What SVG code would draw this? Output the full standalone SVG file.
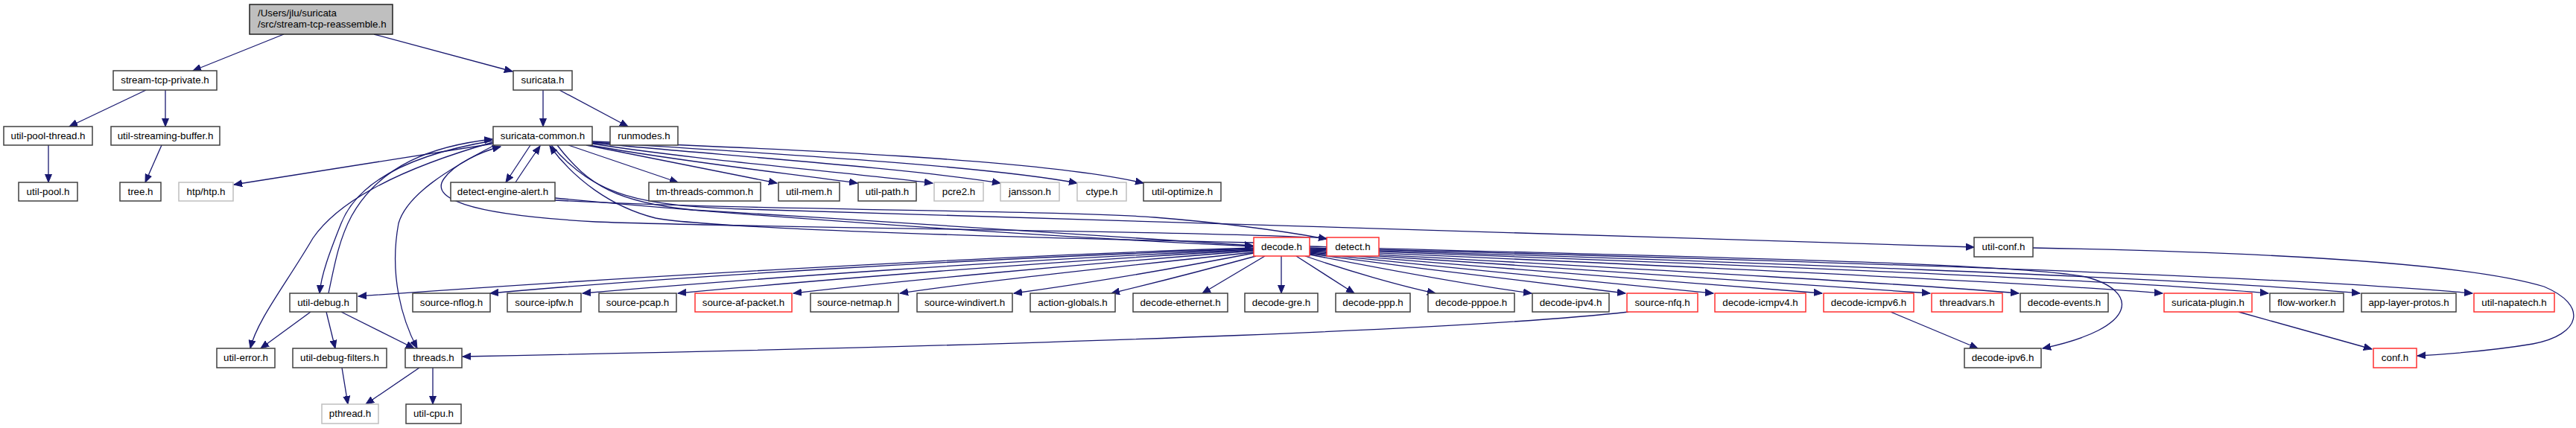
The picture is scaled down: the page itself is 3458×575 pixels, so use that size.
<svg xmlns="http://www.w3.org/2000/svg" width="3458" height="575" viewBox="0 0 3458 575">
<style>
rect{fill:#fff;stroke:#404040;stroke-width:1.5}
.r rect{stroke:#ff3030}
.g rect{stroke:#bfbfbf}
.root rect{fill:#bfbfbf;stroke:#202020}
text{font-family:"Liberation Sans",Arial,sans-serif;font-size:13.33px;fill:#000;text-anchor:middle}
#edges path{fill:none;stroke:#191970;stroke-width:1.3;marker-end:url(#ah)}
</style>
<defs>
<marker id="ah" markerWidth="12" markerHeight="10" refX="11" refY="5" orient="auto" markerUnits="userSpaceOnUse">
<path d="M0,0.5 L11,5 L0,9.5 z" fill="#191970" stroke="#191970" stroke-width="1"/>
</marker>
</defs>
<rect x="0" y="0" width="3458" height="575" style="fill:#fff;stroke:none"/>
<g id="edges">
<path d="M381,46 L259,95"/>
<path d="M502,46 L688,96"/>
<path d="M196,121 L93,170"/>
<path d="M222,121 L222,170"/>
<path d="M65,195 L65,245"/>
<path d="M217,195 L195,245"/>
<path d="M729,121 L729,170"/>
<path d="M751,121 L843,170"/>
<path d="M662,193 L314,248"/>
<path d="M712,195 L679,245"/>
<path d="M692,245 C701,231 714,212 725,196"/>
<path d="M763,195 L910,245"/>
<path d="M787,195 L1043,246"/>
<path d="M792,195 C900,215 1050,232 1151,246"/>
<path d="M795,193 C920,213 1120,230 1252,246"/>
<path d="M795,192 C960,208 1220,226 1343,246"/>
<path d="M795,191 C1000,204 1320,222 1446,246"/>
<path d="M795,190 C1050,200 1400,214 1535,246"/>
<path d="M748,195 C790,250 830,272 930,282 C1200,298 1500,318 1682,330"/>
<path d="M745,266 C1000,290 1400,318 1682,331"/>
<path d="M745,269 C1000,283 1420,282 1550,292 C1650,300 1720,310 1781,321"/>
<path d="M740,195 C800,265 860,276 1000,281 C1500,296 2200,318 2650,332"/>
<path d="M1683,326 C1300,318 950,306 880,293 C820,278 770,240 738,196"/>
<path d="M1782,320 C1600,310 1000,306 800,298 C620,288 578,265 596,240 C610,220 645,204 672,197"/>
<path d="M662,191 C560,220 460,262 420,320 C385,380 345,430 336,468"/>
<path d="M662,189 C560,206 482,240 458,300 C442,340 431,370 429,394"/>
<path d="M441,394 C450,350 456,320 472,290 C510,222 580,196 661,187"/>
<path d="M664,195 C600,228 546,262 535,300 C522,370 540,430 560,468"/>
<path d="M1683,333 C1300,345 800,375 481,398"/>
<path d="M1683,334 C1300,348 900,372 658,394"/>
<path d="M1683,335 C1350,350 1000,375 782,394"/>
<path d="M1683,336 C1400,352 1100,376 910,394"/>
<path d="M1683,337 C1450,355 1200,378 1065,394"/>
<path d="M1683,339 C1500,358 1300,380 1208,394"/>
<path d="M1683,340 C1580,360 1450,382 1361,394"/>
<path d="M1686,344 C1620,362 1550,380 1492,394"/>
<path d="M1698,344 L1614,394"/>
<path d="M1720,344 L1720,394"/>
<path d="M1740,344 L1818,394"/>
<path d="M1752,344 C1810,364 1880,384 1927,394"/>
<path d="M1758,342 C1850,360 1980,384 2056,394"/>
<path d="M1758,341 C1900,360 2100,385 2182,394"/>
<path d="M1758,340 C1950,360 2200,385 2300,394"/>
<path d="M1758,339 C2000,360 2350,385 2446,394"/>
<path d="M1758,338 C2050,358 2450,382 2591,394"/>
<path d="M1758,337 C2100,356 2550,380 2710,394"/>
<path d="M1758,336 C2200,355 2700,378 2903,394"/>
<path d="M1758,335 C2250,352 2850,376 3045,394"/>
<path d="M1758,334 C2300,350 2950,374 3168,394"/>
<path d="M1758,333 C2350,348 3050,370 3319,394"/>
<path d="M1758,331 C2200,344 2700,352 2800,372 C2870,390 2875,440 2742,468"/>
<path d="M2186,419 C2000,440 1500,462 621,479"/>
<path d="M2538,419 L2655,468"/>
<path d="M3005,419 L3184,469"/>
<path d="M2729,333 C3000,338 3300,350 3415,385 C3475,410 3465,450 3400,462 C3340,472 3280,476 3245,478"/>
<path d="M417,419 L350,468"/>
<path d="M438,419 L450,468"/>
<path d="M458,419 L556,468"/>
<path d="M459,494 L467,543"/>
<path d="M563,494 L491,543"/>
<path d="M581,494 L581,543"/>
</g>
<g id="n-root" class="root"><rect x="335" y="6" width="192" height="40"/><text x="346" y="22" style="text-anchor:start">/Users/jlu/suricata</text><text x="346" y="37" style="text-anchor:start">/src/stream-tcp-reassemble.h</text></g>
<g id="n-stream-tcp-private"><rect x="152" y="95" width="139" height="26"/><text x="221.5" y="112">stream-tcp-private.h</text></g>
<g id="n-suricata"><rect x="689" y="95" width="79" height="26"/><text x="728.5" y="112">suricata.h</text></g>
<g id="n-util-pool-thread"><rect x="5" y="170" width="119" height="25"/><text x="64.5" y="187">util-pool-thread.h</text></g>
<g id="n-util-streaming-buffer"><rect x="149" y="170" width="146" height="25"/><text x="222" y="187">util-streaming-buffer.h</text></g>
<g id="n-suricata-common"><rect x="662" y="170" width="133" height="25"/><text x="728.5" y="187">suricata-common.h</text></g>
<g id="n-runmodes"><rect x="819" y="170" width="91" height="25"/><text x="864.5" y="187">runmodes.h</text></g>
<g id="n-util-pool"><rect x="25" y="245" width="79" height="25"/><text x="64.5" y="262">util-pool.h</text></g>
<g id="n-tree"><rect x="161" y="245" width="55" height="25"/><text x="188.5" y="262">tree.h</text></g>
<g id="n-htp" class="g"><rect x="240" y="245" width="73" height="25"/><text x="276.5" y="262">htp/htp.h</text></g>
<g id="n-detect-engine-alert"><rect x="605" y="245" width="140" height="25"/><text x="675" y="262">detect-engine-alert.h</text></g>
<g id="n-tm-threads-common"><rect x="871" y="245" width="150" height="25"/><text x="946" y="262">tm-threads-common.h</text></g>
<g id="n-util-mem"><rect x="1045" y="245" width="82" height="25"/><text x="1086" y="262">util-mem.h</text></g>
<g id="n-util-path"><rect x="1152" y="245" width="78" height="25"/><text x="1191" y="262">util-path.h</text></g>
<g id="n-pcre2" class="g"><rect x="1254" y="245" width="66" height="25"/><text x="1287" y="262">pcre2.h</text></g>
<g id="n-jansson" class="g"><rect x="1343" y="245" width="79" height="25"/><text x="1382.5" y="262">jansson.h</text></g>
<g id="n-ctype" class="g"><rect x="1446" y="245" width="66" height="25"/><text x="1479" y="262">ctype.h</text></g>
<g id="n-util-optimize"><rect x="1535" y="245" width="104" height="25"/><text x="1587" y="262">util-optimize.h</text></g>
<g id="n-decode" class="r"><rect x="1683" y="319" width="75" height="25"/><text x="1720.5" y="336">decode.h</text></g>
<g id="n-detect" class="r"><rect x="1781" y="319" width="70" height="25"/><text x="1816" y="336">detect.h</text></g>
<g id="n-util-conf"><rect x="2650" y="319" width="79" height="26"/><text x="2689.5" y="336">util-conf.h</text></g>
<g id="n-util-debug"><rect x="389" y="394" width="90" height="25"/><text x="434" y="411">util-debug.h</text></g>
<g id="n-source-nflog"><rect x="554" y="394" width="104" height="25"/><text x="606" y="411">source-nflog.h</text></g>
<g id="n-source-ipfw"><rect x="681" y="394" width="99" height="25"/><text x="730.5" y="411">source-ipfw.h</text></g>
<g id="n-source-pcap"><rect x="804" y="394" width="104" height="25"/><text x="856" y="411">source-pcap.h</text></g>
<g id="n-source-af-packet" class="r"><rect x="933" y="394" width="130" height="25"/><text x="998" y="411">source-af-packet.h</text></g>
<g id="n-source-netmap"><rect x="1088" y="394" width="118" height="25"/><text x="1147" y="411">source-netmap.h</text></g>
<g id="n-source-windivert"><rect x="1231" y="394" width="128" height="25"/><text x="1295" y="411">source-windivert.h</text></g>
<g id="n-action-globals"><rect x="1383" y="394" width="114" height="25"/><text x="1440" y="411">action-globals.h</text></g>
<g id="n-decode-ethernet"><rect x="1521" y="394" width="127" height="25"/><text x="1584.5" y="411">decode-ethernet.h</text></g>
<g id="n-decode-gre"><rect x="1671" y="394" width="98" height="25"/><text x="1720" y="411">decode-gre.h</text></g>
<g id="n-decode-ppp"><rect x="1793" y="394" width="100" height="25"/><text x="1843" y="411">decode-ppp.h</text></g>
<g id="n-decode-pppoe"><rect x="1917" y="394" width="116" height="25"/><text x="1975" y="411">decode-pppoe.h</text></g>
<g id="n-decode-ipv4"><rect x="2057" y="394" width="103" height="25"/><text x="2108.5" y="411">decode-ipv4.h</text></g>
<g id="n-source-nfq" class="r"><rect x="2184" y="394" width="95" height="25"/><text x="2231.5" y="411">source-nfq.h</text></g>
<g id="n-decode-icmpv4" class="r"><rect x="2302" y="394" width="122" height="25"/><text x="2363" y="411">decode-icmpv4.h</text></g>
<g id="n-decode-icmpv6" class="r"><rect x="2448" y="394" width="121" height="25"/><text x="2508.5" y="411">decode-icmpv6.h</text></g>
<g id="n-threadvars" class="r"><rect x="2593" y="394" width="95" height="25"/><text x="2640.5" y="411">threadvars.h</text></g>
<g id="n-decode-events"><rect x="2712" y="394" width="118" height="25"/><text x="2771" y="411">decode-events.h</text></g>
<g id="n-suricata-plugin" class="r"><rect x="2905" y="394" width="118" height="25"/><text x="2964" y="411">suricata-plugin.h</text></g>
<g id="n-flow-worker"><rect x="3047" y="394" width="99" height="25"/><text x="3096.5" y="411">flow-worker.h</text></g>
<g id="n-app-layer-protos"><rect x="3170" y="394" width="127" height="25"/><text x="3233.5" y="411">app-layer-protos.h</text></g>
<g id="n-util-napatech" class="r"><rect x="3321" y="394" width="108" height="25"/><text x="3375" y="411">util-napatech.h</text></g>
<g id="n-util-error"><rect x="291" y="468" width="78" height="26"/><text x="330" y="485">util-error.h</text></g>
<g id="n-util-debug-filters"><rect x="393" y="468" width="126" height="26"/><text x="456" y="485">util-debug-filters.h</text></g>
<g id="n-threads"><rect x="544" y="468" width="76" height="26"/><text x="582" y="485">threads.h</text></g>
<g id="n-decode-ipv6"><rect x="2637" y="468" width="103" height="26"/><text x="2688.5" y="485">decode-ipv6.h</text></g>
<g id="n-conf" class="r"><rect x="3186" y="468" width="58" height="26"/><text x="3215" y="485">conf.h</text></g>
<g id="n-pthread" class="g"><rect x="432" y="543" width="76" height="26"/><text x="470" y="560">pthread.h</text></g>
<g id="n-util-cpu"><rect x="545" y="543" width="74" height="26"/><text x="582" y="560">util-cpu.h</text></g>
</svg>
